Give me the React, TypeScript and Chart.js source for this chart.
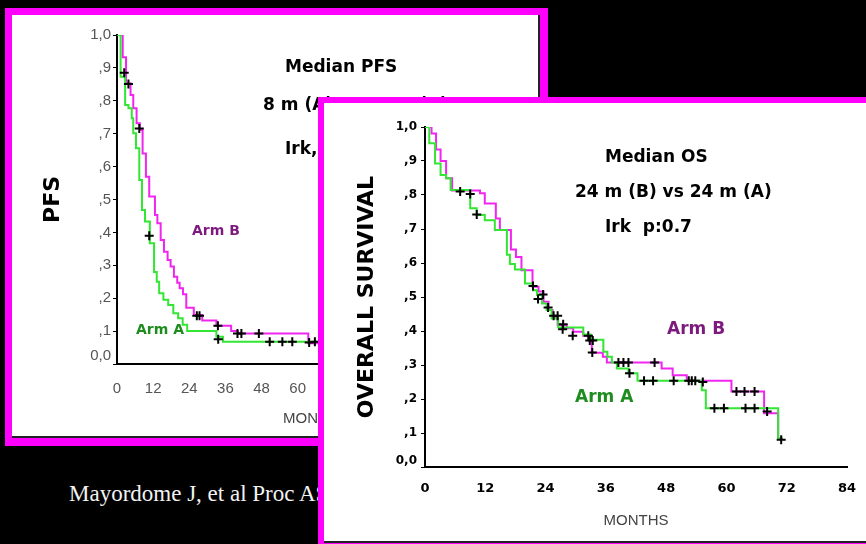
import React, { useEffect, useRef } from 'react';
import { Chart, registerables } from 'chart.js';

Chart.register(...registerables);

// ---------- DATA ----------
const monthMax = 84;
const monthStep = 12;

// PFS (left panel)
const pfsArmATime = [0, 1.2, 2.7, 3.8, 4.9, 5.4, 6.3, 7.4, 8.3, 9.3, 10.9, 12.3, 13.2, 14.0, 15.4, 17.0, 18.7, 20.3, 21.8, 23.3, 33.0, 35.2, 70];
const pfsArmASurv = [1, 0.873, 0.787, 0.777, 0.747, 0.701, 0.656, 0.559, 0.468, 0.433, 0.367, 0.28, 0.25, 0.215, 0.195, 0.179, 0.154, 0.139, 0.119, 0.1, 0.083, 0.068, 0.068];
const pfsArmBTime = [0, 1.9, 3.0, 4.5, 5.4, 6.5, 7.6, 8.5, 9.6, 10.7, 12.6, 13.4, 14.5, 15.6, 16.8, 17.8, 18.9, 20.0, 20.8, 21.9, 23.0, 25.5, 28.3, 33.0, 37.9, 40.1, 63.5, 70];
const pfsArmBSurv = [1, 0.932, 0.853, 0.818, 0.777, 0.732, 0.711, 0.64, 0.569, 0.509, 0.453, 0.428, 0.377, 0.341, 0.316, 0.296, 0.265, 0.247, 0.23, 0.212, 0.171, 0.149, 0.132, 0.116, 0.1, 0.093, 0.063, 0.063];
const pfsCensorATime = [2.4, 10.7, 33.6, 50.7, 54.9, 58.2, 63.8, 65.7];
const pfsCensorASurv = [0.885, 0.39, 0.075, 0.068, 0.068, 0.068, 0.065, 0.068];
const pfsCensorBTime = [3.8, 7.4, 26.5, 27.4, 33.5, 40.0, 41.3, 47.1];
const pfsCensorBSurv = [0.851, 0.716, 0.147, 0.147, 0.116, 0.093, 0.093, 0.093];

// OS (right panel)
const osArmATime = [0, 0.85, 2.0, 3.1, 4.2, 5.1, 9.0, 10.3, 11.9, 13.9, 16.3, 16.9, 17.9, 19.9, 21.5, 22.3, 23.3, 24.2, 25.2, 26.5, 31.5, 33.0, 35.5, 36.3, 37.2, 38.2, 40.5, 42.3, 55.1, 55.9, 70.3, 71.2];
const osArmASurv = [1, 0.952, 0.893, 0.859, 0.849, 0.815, 0.761, 0.741, 0.726, 0.697, 0.624, 0.597, 0.581, 0.54, 0.52, 0.506, 0.481, 0.462, 0.437, 0.41, 0.39, 0.374, 0.339, 0.324, 0.307, 0.29, 0.276, 0.254, 0.226, 0.173, 0.084, 0.084];
const osArmBTime = [0, 1.3, 2.2, 3.1, 4.2, 5.4, 10.95, 11.9, 14.1, 14.9, 17.1, 18.1, 19.2, 21.4, 22.6, 23.6, 24.6, 25.4, 26.4, 28.2, 29.5, 31.5, 33.2, 35.4, 36.2, 47.1, 49.3, 52.1, 61.0, 67.5, 70.3, 71.2];
const osArmBSurv = [1, 0.981, 0.934, 0.9, 0.849, 0.813, 0.805, 0.775, 0.731, 0.697, 0.64, 0.618, 0.579, 0.53, 0.516, 0.486, 0.462, 0.442, 0.418, 0.408, 0.398, 0.386, 0.336, 0.324, 0.307, 0.29, 0.27, 0.254, 0.222, 0.158, 0.084, 0.084];
const osCensorATime = [9.0, 10.3, 21.5, 22.5, 24.5, 25.6, 26.4, 27.4, 29.4, 32.5, 32.8, 33.4, 40.7, 43.6, 45.4, 49.5, 52.5, 53.1, 53.8, 57.6, 59.5, 63.8, 65.6];
const osCensorASurv = [0.803, 0.743, 0.532, 0.494, 0.469, 0.445, 0.445, 0.405, 0.386, 0.386, 0.372, 0.372, 0.276, 0.254, 0.254, 0.254, 0.254, 0.254, 0.254, 0.173, 0.173, 0.173, 0.173];
const osCensorBTime = [7.0, 23.5, 27.5, 33.3, 38.5, 39.5, 40.5, 45.7, 55.3, 62.0, 63.6, 65.6, 68.1, 70.9];
const osCensorBSurv = [0.81, 0.507, 0.42, 0.337, 0.307, 0.307, 0.307, 0.307, 0.25, 0.222, 0.222, 0.222, 0.163, 0.08];

// ---------- STYLE ----------
const GREEN = '#33e633';
const MAGENTA = '#f026f0';
const PURPLE_TEXT = '#7d1a7d';
const GREEN_TEXT = '#1e8c1e';
const BOLD = 'bold 17px "DejaVu Sans"';

const toPoints = (xs: number[], ys: number[]) => xs.map((x, i) => ({ x, y: ys[i] }));
const survLabel = (v: number) => {
  const r = Math.round(v * 10);
  if (r === 10) return '1,0';
  if (r === 0) return ''; // "0,0" is drawn slightly raised, as in the original
  return ',' + r;
};

const notesPlugin = {
  id: 'notes',
  afterDraw(chart: any, _args: any, opts: any) {
    const ctx = chart.ctx;
    for (const n of opts.items || []) {
      ctx.save();
      ctx.font = n.font;
      ctx.fillStyle = n.color;
      ctx.textAlign = n.align || 'left';
      ctx.textBaseline = 'middle';
      ctx.fillText(n.text, n.x, n.y);
      ctx.restore();
    }
  },
};

function datasets(aT: number[], aS: number[], bT: number[], bS: number[], caT: number[], caS: number[], cbT: number[], cbS: number[]) {
  const cross = {
    showLine: false,
    pointStyle: 'cross',
    pointRadius: 4.5,
    pointBorderWidth: 2,
    borderColor: '#000',
    backgroundColor: '#000',
    pointBorderColor: '#000',
  };
  return [
    { label: 'Censored A', data: toPoints(caT, caS), ...cross },
    { label: 'Censored B', data: toPoints(cbT, cbS), ...cross },
    { label: 'Arm A', data: toPoints(aT, aS), stepped: true, borderColor: GREEN, borderWidth: 2, pointRadius: 0, fill: false },
    { label: 'Arm B', data: toPoints(bT, bS), stepped: true, borderColor: MAGENTA, borderWidth: 2, pointRadius: 0, fill: false },
  ];
}

function pfsConfig(): any {
  return {
    type: 'line',
    data: { datasets: datasets(pfsArmATime, pfsArmASurv, pfsArmBTime, pfsArmBSurv, pfsCensorATime, pfsCensorASurv, pfsCensorBTime, pfsCensorBSurv) },
    plugins: [notesPlugin],
    options: {
      responsive: false,
      animation: false,
      events: [],
      layout: { padding: { left: 24, top: 20, right: 168, bottom: 32 } },
      plugins: {
        legend: { display: false },
        tooltip: { enabled: false },
        notes: {
          items: [
            { text: 'Median PFS', x: 273, y: 53, font: BOLD, color: '#000' },
            { text: '8 m (A) vs 13 m (B)', x: 251, y: 91, font: BOLD, color: '#000' },
            { text: 'Irk, p:0.02', x: 273, y: 135, font: BOLD, color: '#000' },
            { text: 'Arm B', x: 180, y: 216, font: 'bold 14px "DejaVu Sans"', color: PURPLE_TEXT },
            { text: 'Arm A', x: 124, y: 315, font: 'bold 14px "DejaVu Sans"', color: GREEN_TEXT },
            { text: 'MONTHS', x: 271, y: 404, font: '15px "Liberation Sans"', color: '#444' },
            { text: '0,0', x: 99, y: 341, font: '15px "Liberation Sans"', color: '#555', align: 'right' },
          ],
        },
      },
      scales: {
        x: {
          type: 'linear', min: 0, max: monthMax,
          afterFit: (s: any) => { s.height = 40; },
          ticks: { stepSize: monthStep, padding: 8, color: '#555', font: { family: 'Liberation Sans', size: 15 } },
          grid: { display: false },
          border: { display: true, color: '#000', width: 2 },
        },
        y: {
          type: 'linear', min: 0, max: 1,
          afterFit: (s: any) => { s.width = 81; },
          ticks: { stepSize: 0.1, padding: 2, color: '#555', font: { family: 'Liberation Sans', size: 15 }, callback: (v: any) => survLabel(Number(v)) },
          grid: { drawOnChartArea: false, tickLength: 4, color: '#000' },
          border: { display: true, color: '#000', width: 2 },
          title: { display: true, text: 'PFS', color: '#000', font: { family: 'DejaVu Sans', weight: 'bold', size: 22 }, padding: { top: 4, bottom: 0 } },
        },
      },
    },
  };
}

function osConfig(): any {
  return {
    type: 'line',
    data: { datasets: datasets(osArmATime, osArmASurv, osArmBTime, osArmBSurv, osCensorATime, osCensorASurv, osCensorBTime, osCensorBSurv) },
    plugins: [notesPlugin],
    options: {
      responsive: false,
      animation: false,
      events: [],
      layout: { padding: { left: 28, top: 24, right: 19, bottom: 7 } },
      plugins: {
        legend: { display: false },
        tooltip: { enabled: false },
        notes: {
          items: [
            { text: 'Median OS', x: 281, y: 55, font: BOLD, color: '#000' },
            { text: '24 m (B) vs 24 m (A)', x: 251, y: 90, font: BOLD, color: '#000' },
            { text: 'Irk  p:0.7', x: 281, y: 125, font: BOLD, color: '#000' },
            { text: 'Arm B', x: 343, y: 227, font: BOLD, color: PURPLE_TEXT },
            { text: 'Arm A', x: 251, y: 295, font: BOLD, color: GREEN_TEXT },
            { text: '0,0', x: 93, y: 358, font: 'bold 12px "DejaVu Sans"', color: '#000', align: 'right' },
          ],
        },
      },
      scales: {
        x: {
          type: 'linear', min: 0, max: monthMax,
          afterFit: (s: any) => { s.height = 67; },
          ticks: { stepSize: monthStep, padding: 6, color: '#000', font: { family: 'DejaVu Sans', weight: 'bold', size: 13 } },
          grid: { display: false },
          border: { display: true, color: '#000', width: 2 },
          title: { display: true, text: 'MONTHS', color: '#444', font: { family: 'Liberation Sans', size: 15 }, padding: { top: 0, bottom: 4 } },
        },
        y: {
          type: 'linear', min: 0, max: 1,
          afterFit: (s: any) => { s.width = 73; },
          ticks: { stepSize: 0.1, padding: 4, color: '#000', font: { family: 'DejaVu Sans', weight: 'bold', size: 12 }, callback: (v: any) => survLabel(Number(v)) },
          grid: { drawOnChartArea: false, tickLength: 4, color: '#000' },
          border: { display: true, color: '#000', width: 2 },
          title: { display: true, text: 'OVERALL SURVIVAL', color: '#000', font: { family: 'DejaVu Sans', weight: 'bold', size: 22 }, padding: { top: 2, bottom: 0 } },
        },
      },
    },
  };
}

function ChartCanvas({ make, left, top, width, height }: { make: () => any; left: number; top: number; width: number; height: number }) {
  const ref = useRef<HTMLCanvasElement | null>(null);
  useEffect(() => {
    const chart = new Chart(ref.current as HTMLCanvasElement, make());
    return () => chart.destroy();
  }, []);
  return (
    <canvas
      ref={ref}
      width={width}
      height={height}
      style={{ position: 'absolute', left, top, width, height, display: 'block' }}
    />
  );
}

const abs = (left: number, top: number, width: number, height: number, background: string): React.CSSProperties => ({
  position: 'absolute', left, top, width, height, background,
});

export default function App() {
  return (
    <div style={{ position: 'fixed', left: 0, top: 0, width: 866, height: 544, background: '#000', overflow: 'hidden' }}>
      {/* left panel */}
      <div style={abs(5, 8, 543, 438, '#ff00ff')} />
      <div style={abs(12, 15, 528, 423, '#222')} />
      <div style={abs(12, 15, 526, 421, '#fff')} />
      <ChartCanvas make={pfsConfig} left={12} top={15} width={526} height={421} />

      {/* citation */}
      <div style={{ position: 'absolute', left: 69, top: 479, color: '#f2f2f2', fontFamily: '"Liberation Serif", serif', fontSize: 23, whiteSpace: 'nowrap', lineHeight: '30px' }}>
        Mayordome J, et al Proc ASCO 2009
      </div>

      {/* right panel */}
      <div style={abs(318, 97, 548, 447, '#ff00ff')} />
      <div style={abs(324, 103, 542, 440, '#222')} />
      <div style={abs(324, 103, 542, 438, '#fff')} />
      <ChartCanvas make={osConfig} left={324} top={103} width={542} height={438} />
    </div>
  );
}
